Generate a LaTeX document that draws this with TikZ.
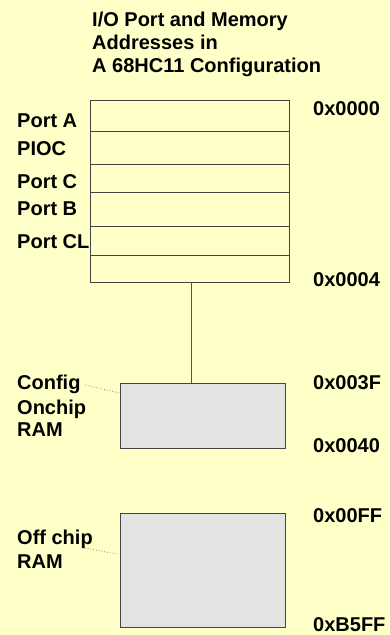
\documentclass[tikz,border=0pt]{standalone}
\usepackage{fontspec}
\setmainfont{Liberation Sans}
\definecolor{bgyel}{HTML}{FFFFC8}
\definecolor{boxgray}{HTML}{E3E3E3}
\definecolor{edgegray}{HTML}{444444}
\definecolor{linegray}{HTML}{555555}
\definecolor{leadgray}{HTML}{888888}
\begin{document}
\begin{tikzpicture}[x=1pt,y=-1pt,
  lbl/.style={anchor=base west,inner sep=0pt,font=\fontsize{20}{23.5}\selectfont\bfseries},
  membox/.style={draw=edgegray,line width=0.9pt,anchor=north west,inner sep=0pt},
  rowline/.style={draw=edgegray,line width=0.9pt},
  leader/.style={draw=leadgray,dotted,line width=0.8pt}]
\fill[bgyel] (0,0) rectangle (389,635);
\useasboundingbox (0,0) rectangle (389,635);
% title
\node[lbl] (t1) at (92,26) {I/O Port and Memory};
\node[lbl] (t2) at (92,49.3) {Addresses in};
\node[lbl] (t3) at (92,72.6) {A 68HC11 Configuration};
% port block
\node[membox,minimum width=199pt,minimum height=182pt] (blk) at (90,100) {};
\foreach \yy in {131,164,192,226,255}
  \draw[rowline] (blk.west |- 0,\yy) -- (blk.east |- 0,\yy);
% port labels
\node[lbl] (pa) at (17,127.5) {Port A};
\node[lbl] (pioc) at (17,155.5) {PIOC};
\node[lbl] (pc) at (17,188.5) {Port C};
\node[lbl] (pb) at (17,215) {Port B};
\node[lbl] (pcl) at (17,248.3) {Port CL};
% config box
\node[membox,fill=boxgray,minimum width=165pt,minimum height=65pt] (cfg) at (119.5,383) {};
\coordinate (c1) at (191,282);
\draw[draw=linegray,line width=1pt] (c1) -- (c1 |- cfg.north);
% off chip box
\node[membox,fill=boxgray,minimum width=165pt,minimum height=114pt] (off) at (119.5,513) {};
% addresses
\node[lbl] (a0) at (313,115.7) {0x0000};
\node[lbl] (a4) at (313,286) {0x0004};
\node[lbl] (a3f) at (313,389.3) {0x003F};
\node[lbl] (a40) at (313,452.3) {0x0040};
\node[lbl] (aff) at (313,522.7) {0x00FF};
\node[lbl] (ab5) at (313,631.5) {0xB5FF};
% left labels
\node[lbl] (cf1) at (17,389.3) {Config};
\node[lbl] (cf2) at (17,414) {Onchip};
\node[lbl] (cf3) at (17,436.7) {RAM};
\node[lbl] (of1) at (17,544) {Off chip};
\node[lbl] (of2) at (17,568.3) {RAM};
% leaders
\coordinate (l1) at (85,385);
\coordinate (l2) at (85,548);
\draw[leader] (l1) -- (cfg.west |- 0,393);
\draw[leader] (l2) -- (117,554);
\end{tikzpicture}
\end{document}
